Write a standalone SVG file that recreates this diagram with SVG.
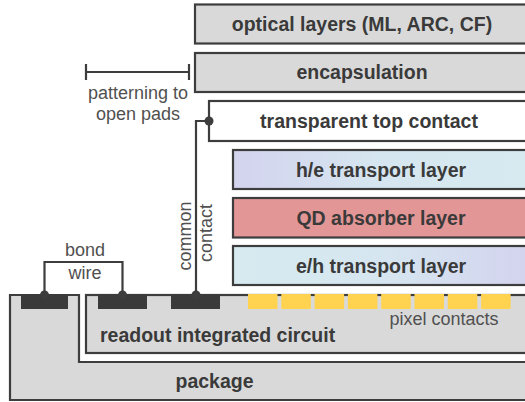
<svg xmlns="http://www.w3.org/2000/svg" width="525" height="402" viewBox="0 0 525 402">
<defs>
<linearGradient id="gradHE" x1="0" y1="0" x2="1" y2="0">
<stop offset="0" stop-color="#d3d3ee"/>
<stop offset="0.5" stop-color="#d6e6f0"/>
<stop offset="1" stop-color="#d6eaf0"/>
</linearGradient>
<linearGradient id="gradEH" x1="0" y1="0" x2="1" y2="0">
<stop offset="0" stop-color="#d6eaf0"/>
<stop offset="0.5" stop-color="#d6e6f0"/>
<stop offset="1" stop-color="#d3d3ee"/>
</linearGradient>
<style>
.box{stroke:#3d3d3d;stroke-width:2.2}
.grey{fill:#d9d9d9}
.lbl{font-family:"Liberation Sans",Arial,sans-serif;font-weight:bold;font-size:19.5px;fill:#3a3a3a;text-anchor:middle}
.small{font-family:"Liberation Sans",Arial,sans-serif;font-size:18px;fill:#505050;text-anchor:middle}
.wire{fill:none;stroke:#3d3d3d;stroke-width:2.2}
.dot{fill:#3d3d3d}
.pad{fill:#3a3a3a}
.px{fill:#ffd34f}
</style>
</defs>
<rect width="525" height="402" fill="#ffffff"/>

<g id="package">
<path class="box grey" d="M10,295 H79 V362 H530 V400 H10 Z"/>
<text class="lbl" x="214.5" y="388">package</text>
</g>

<g id="readout-ic">
<rect class="box grey" x="86" y="295" width="444" height="58"/>
<text class="lbl" x="100" y="342" style="text-anchor:start">readout integrated circuit</text>
</g>

<g id="pads">
<rect class="pad" x="21" y="294" width="47" height="15"/>
<rect class="pad" x="98" y="294" width="49" height="15"/>
<rect class="pad" x="171" y="294" width="49" height="15"/>
</g>

<g id="pixel-contacts">
<rect class="px" x="248" y="294" width="29.5" height="15"/>
<rect class="px" x="281.3" y="294" width="29.5" height="15"/>
<rect class="px" x="314.6" y="294" width="29.5" height="15"/>
<rect class="px" x="347.9" y="294" width="29.5" height="15"/>
<rect class="px" x="381.2" y="294" width="29.5" height="15"/>
<rect class="px" x="414.5" y="294" width="29.5" height="15"/>
<rect class="px" x="447.8" y="294" width="29.5" height="15"/>
<rect class="px" x="481.1" y="294" width="29.5" height="15"/>
<text class="small" x="444" y="325">pixel contacts</text>
</g>

<g id="optical-layers">
<rect class="box grey" x="195" y="4.5" width="335" height="39"/>
<text class="lbl" x="362" y="30.5">optical layers (ML, ARC, CF)</text>
</g>

<g id="encapsulation">
<rect class="box grey" x="195" y="53" width="335" height="39"/>
<text class="lbl" x="362" y="79">encapsulation</text>
</g>

<g id="transparent-top-contact">
<rect class="box" fill="#ffffff" x="209" y="101" width="321" height="40"/>
<text class="lbl" x="369" y="128">transparent top contact</text>
</g>

<g id="he-transport">
<rect class="box" fill="url(#gradHE)" x="233" y="150" width="297" height="39"/>
<text class="lbl" x="381" y="176.5">h/e transport layer</text>
</g>

<g id="qd-absorber">
<rect class="box" fill="#e39696" x="233" y="198" width="297" height="39.5"/>
<text class="lbl" x="381" y="224.5">QD absorber layer</text>
</g>

<g id="eh-transport">
<rect class="box" fill="url(#gradEH)" x="233" y="246" width="297" height="39"/>
<text class="lbl" x="381" y="272.5">e/h transport layer</text>
</g>

<g id="connectors">
<path class="wire" d="M44.5,295 V262 H122.5 V295"/>
<circle class="dot" cx="44.5" cy="295" r="4.5"/>
<circle class="dot" cx="122.5" cy="295" r="4.5"/>
<path class="wire" d="M196,295 V121 H209"/>
<circle class="dot" cx="196" cy="295" r="4.5"/>
<circle class="dot" cx="209" cy="121" r="4.5"/>
<path class="wire" d="M86,72 H189 M86,64 V80 M189,64 V80"/>
</g>

<g id="labels">
<text class="small" x="138" y="99">patterning to</text>
<text class="small" x="138" y="120">open pads</text>
<text class="small" x="85" y="256">bond</text>
<text class="small" x="85" y="279">wire</text>
<text class="small" transform="translate(190.5,236) rotate(-90)">common</text>
<text class="small" transform="translate(211.5,233) rotate(-90)">contact</text>
</g>
</svg>
